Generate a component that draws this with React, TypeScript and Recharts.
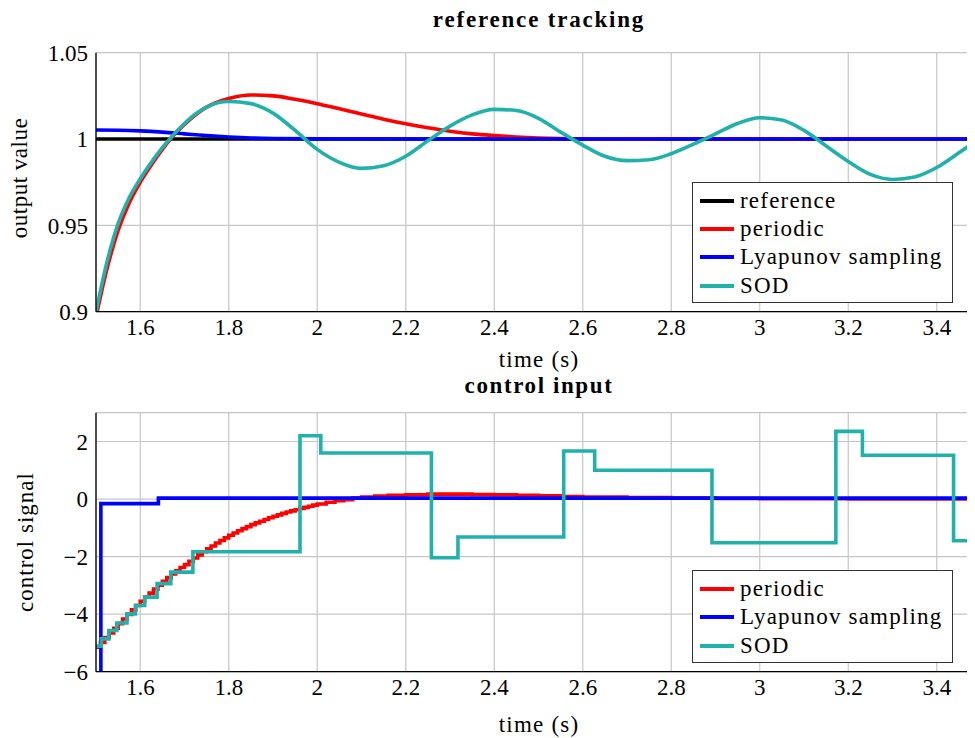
import { CartesianGrid, Line, LineChart, XAxis, YAxis } from "recharts";

type Pt = [number, number];

// reference tracking: output value over time
const referenceOut: Pt[] = [
  [1.5, 1],
  [3.5, 1],
];
const periodicOut: Pt[] = [
  [1.5, 0.897], [1.525, 0.925], [1.55, 0.947], [1.575, 0.963], [1.6, 0.975],
  [1.625, 0.985], [1.65, 0.994], [1.675, 1.002], [1.7, 1.0085], [1.75, 1.0185],
  [1.8, 1.0235], [1.85, 1.0255], [1.9, 1.025], [1.95, 1.023], [2.0, 1.0205],
  [2.05, 1.0175], [2.1, 1.0145], [2.15, 1.0115], [2.2, 1.0088], [2.25, 1.0065],
  [2.3, 1.0045], [2.35, 1.003], [2.4, 1.002], [2.45, 1.0012], [2.5, 1.0006],
  [2.6, 1.0001], [2.8, 1.0], [3.5, 1.0],
];
const lyapunovOut: Pt[] = [
  [1.5, 1.0052], [1.55, 1.0051], [1.6, 1.0047], [1.65, 1.004], [1.7, 1.003],
  [1.75, 1.002], [1.8, 1.0012], [1.85, 1.0006], [1.9, 1.0003], [2.0, 1.0001],
  [2.2, 1.0], [3.5, 1.0],
];
const sodOut: Pt[] = [
  [1.5, 0.9], [1.525, 0.929], [1.55, 0.951], [1.575, 0.966], [1.6, 0.977],
  [1.625, 0.9865], [1.65, 0.995], [1.675, 1.0025], [1.7, 1.009], [1.725, 1.0145],
  [1.75, 1.0185], [1.775, 1.021], [1.8, 1.0217], [1.85, 1.0205], [1.9, 1.015],
  [1.95, 1.005], [2.0, 0.994], [2.05, 0.9865], [2.1, 0.983], [2.15, 0.9845],
  [2.2, 0.99], [2.25, 0.999], [2.3, 1.0075], [2.35, 1.014], [2.4, 1.0172],
  [2.45, 1.0165], [2.5, 1.012], [2.55, 1.004], [2.6, 0.9965], [2.65, 0.99],
  [2.7, 0.9875], [2.75, 0.988], [2.8, 0.9915], [2.85, 0.997], [2.9, 1.003],
  [2.95, 1.009], [3.0, 1.0123], [3.05, 1.011], [3.1, 1.005], [3.15, 0.996],
  [3.2, 0.987], [3.25, 0.9795], [3.3, 0.9766], [3.35, 0.978], [3.4, 0.9835],
  [3.45, 0.992], [3.5, 1.001],
];

// control input: held control signal over time
const periodicCtl: Pt[] = [
  [1.5, -5.15], [1.51, -4.98], [1.52, -4.81], [1.53, -4.65], [1.54, -4.49],
  [1.55, -4.33], [1.56, -4.17], [1.57, -4.01], [1.58, -3.85], [1.59, -3.7],
  [1.6, -3.55], [1.61, -3.41], [1.62, -3.27], [1.63, -3.13], [1.64, -2.99],
  [1.65, -2.86], [1.66, -2.73], [1.67, -2.6], [1.68, -2.49], [1.69, -2.38],
  [1.7, -2.28], [1.71, -2.16], [1.72, -2.05], [1.73, -1.94], [1.74, -1.83],
  [1.75, -1.73], [1.76, -1.63], [1.77, -1.53], [1.78, -1.44], [1.79, -1.35],
  [1.8, -1.26], [1.81, -1.18], [1.82, -1.1], [1.83, -1.03], [1.84, -0.96],
  [1.85, -0.89], [1.86, -0.83], [1.87, -0.77], [1.88, -0.71], [1.89, -0.65],
  [1.9, -0.6], [1.91, -0.55], [1.92, -0.5], [1.93, -0.45], [1.94, -0.41],
  [1.95, -0.37], [1.96, -0.33], [1.97, -0.29], [1.98, -0.25], [1.99, -0.21],
  [2.0, -0.17], [2.02, -0.11], [2.04, -0.06], [2.06, -0.02], [2.08, 0.03],
  [2.1, 0.07], [2.13, 0.1], [2.16, 0.13], [2.2, 0.15], [2.25, 0.17],
  [2.3, 0.17], [2.35, 0.16], [2.4, 0.15], [2.45, 0.13], [2.5, 0.11],
  [2.55, 0.09], [2.6, 0.07], [2.7, 0.05], [2.8, 0.03], [2.9, 0.02],
  [3.0, 0.01], [3.2, 0], [3.5, 0],
];
const lyapunovCtl: Pt[] = [
  [1.5, -7], [1.511, -0.16], [1.641, 0.03], [3.5, 0.03],
];
const sodCtl: Pt[] = [
  [1.5, -5.11], [1.512, -4.86], [1.529, -4.57], [1.547, -4.31], [1.57, -3.99],
  [1.589, -3.7], [1.61, -3.41], [1.638, -2.94], [1.669, -2.54], [1.719, -1.83],
  [1.961, 2.2], [2.008, 1.6], [2.258, -2.04], [2.318, -1.32], [2.557, 1.67],
  [2.627, 1.0], [2.892, -1.52], [3.172, 2.35], [3.232, 1.52], [3.438, -1.45],
  [3.5, -1.45],
];

const timeTicks = [1.6, 1.8, 2, 2.2, 2.4, 2.6, 2.8, 3, 3.2, 3.4];
const outputTicks = [0.9, 0.95, 1, 1.05];
const controlTicks = [-6, -4, -2, 0, 2];

const FONT = "'Liberation Serif', 'DejaVu Serif', 'Noto Serif', serif";
const FONT_SIZE = 23;
const CHART_W = 1000;
const CHART_H = 360;
const MARGIN = { top: 44.7, right: 27, bottom: 26.3, left: 0 };
const LINE_W = 3.6;

type Series = { name: string; color: string; data: Pt[]; step?: boolean };

const trackingSeries: Series[] = [
  { name: "reference", color: "#000000", data: referenceOut },
  { name: "periodic", color: "#ff0000", data: periodicOut },
  { name: "Lyapunov sampling", color: "#0000ff", data: lyapunovOut },
  { name: "SOD", color: "#20b2aa", data: sodOut },
];

const controlSeries: Series[] = [
  { name: "periodic", color: "#ff0000", data: periodicCtl, step: true },
  { name: "Lyapunov sampling", color: "#0000ff", data: lyapunovCtl, step: true },
  { name: "SOD", color: "#20b2aa", data: sodCtl, step: true },
];

const toRows = (pts: Pt[]) => pts.map(([t, v]) => ({ t, v }));
const tickStyle = { fill: "#000", fontSize: FONT_SIZE, fontFamily: FONT };
const fmtTime = (v: number) => String(Number(v.toFixed(1)));
const fmtSigned = (v: number) => (v < 0 ? `\u2212${Math.abs(v)}` : String(v));

function Panel({
  series,
  domain,
  yTicks,
  yFormat,
}: {
  series: Series[];
  domain: [number, number];
  yTicks: number[];
  yFormat: (v: number) => string;
}) {
  return (
    <LineChart width={CHART_W} height={CHART_H} margin={MARGIN}>
      <CartesianGrid stroke="#c6c6c6" strokeWidth={1.2} />
      <XAxis
        type="number"
        dataKey="t"
        domain={[1.5, 3.5]}
        ticks={timeTicks}
        interval={0}
        allowDataOverflow
        height={30}
        tickSize={4}
        tickMargin={3}
        tickLine={false}
        axisLine={{ stroke: "#000", strokeWidth: 1.3 }}
        tick={tickStyle}
        tickFormatter={fmtTime}
      />
      <YAxis
        type="number"
        domain={domain}
        ticks={yTicks}
        interval={0}
        allowDataOverflow
        width={88}
        tickSize={4}
        tickMargin={4}
        tickLine={false}
        axisLine={{ stroke: "#000", strokeWidth: 1.3 }}
        tick={tickStyle}
        tickFormatter={yFormat}
      />
      {series.map((s) => (
        <Line
          key={s.name}
          data={toRows(s.data)}
          dataKey="v"
          type={s.step ? "stepAfter" : "monotone"}
          stroke={s.color}
          strokeWidth={LINE_W}
          dot={false}
          activeDot={false}
          isAnimationActive={false}
        />
      ))}
    </LineChart>
  );
}

function LegendBox({
  items,
  left,
  top,
  height,
  padTop,
}: {
  items: Series[];
  left: number;
  top: number;
  height: number;
  padTop: number;
}) {
  const rowH = 28.3;
  return (
    <div
      style={{
        position: "absolute",
        left,
        top,
        width: 261,
        height,
        boxSizing: "border-box",
        border: "1.2px solid #333",
        background: "#fff",
        fontFamily: FONT,
        fontSize: FONT_SIZE,
        letterSpacing: 1.2,
        color: "#000",
      }}
    >
      {items.map((it, i) => (
        <div
          key={it.name}
          style={{
            position: "absolute",
            left: 0,
            top: padTop + i * rowH,
            height: rowH,
            display: "flex",
            alignItems: "center",
            whiteSpace: "nowrap",
          }}
        >
          <span
            style={{
              display: "inline-block",
              width: 34,
              height: 4,
              marginLeft: 7,
              marginRight: 6,
              background: it.color,
            }}
          />
          <span>{it.name}</span>
        </div>
      ))}
    </div>
  );
}

export default function App() {
  const text = { fontFamily: FONT, fontSize: FONT_SIZE, fill: "#000" };
  return (
    <div
      style={{
        position: "relative",
        width: 967,
        height: 738,
        overflow: "hidden",
        marginBottom: -8,
        background: "#fff",
      }}
    >
      <div style={{ position: "absolute", left: 0, top: 0 }}>
        <Panel
          series={trackingSeries}
          domain={[0.9, 1.05]}
          yTicks={outputTicks}
          yFormat={(v) => String(v)}
        />
      </div>
      <div style={{ position: "absolute", left: 0, top: 360 }}>
        <Panel
          series={controlSeries}
          domain={[-6, 3]}
          yTicks={controlTicks}
          yFormat={fmtSigned}
        />
      </div>

      <LegendBox items={trackingSeries} left={684} top={174} height={121} padTop={3.5} />
      <LegendBox items={controlSeries} left={684} top={562} height={93} padTop={3.8} />

      <svg
        width={967}
        height={738}
        style={{ position: "absolute", left: 0, top: 0, pointerEvents: "none" }}
      >
        <text x={531} y={19} textAnchor="middle" fontWeight="bold" letterSpacing={1.8} {...text}>
          reference tracking
        </text>
        <text x={531} y={359} textAnchor="middle" letterSpacing={1.2} {...text}>
          time (s)
        </text>
        <text x={531} y={385} textAnchor="middle" fontWeight="bold" letterSpacing={1.6} {...text}>
          control input
        </text>
        <text x={531} y={724} textAnchor="middle" letterSpacing={1.2} {...text}>
          time (s)
        </text>
        <text x={19} y={170} textAnchor="middle" letterSpacing={0.5} transform="rotate(-90 19 170)" {...text}>
          output value
        </text>
        <text x={25} y={534} textAnchor="middle" letterSpacing={1} transform="rotate(-90 25 534)" {...text}>
          control signal
        </text>
      </svg>
    </div>
  );
}
